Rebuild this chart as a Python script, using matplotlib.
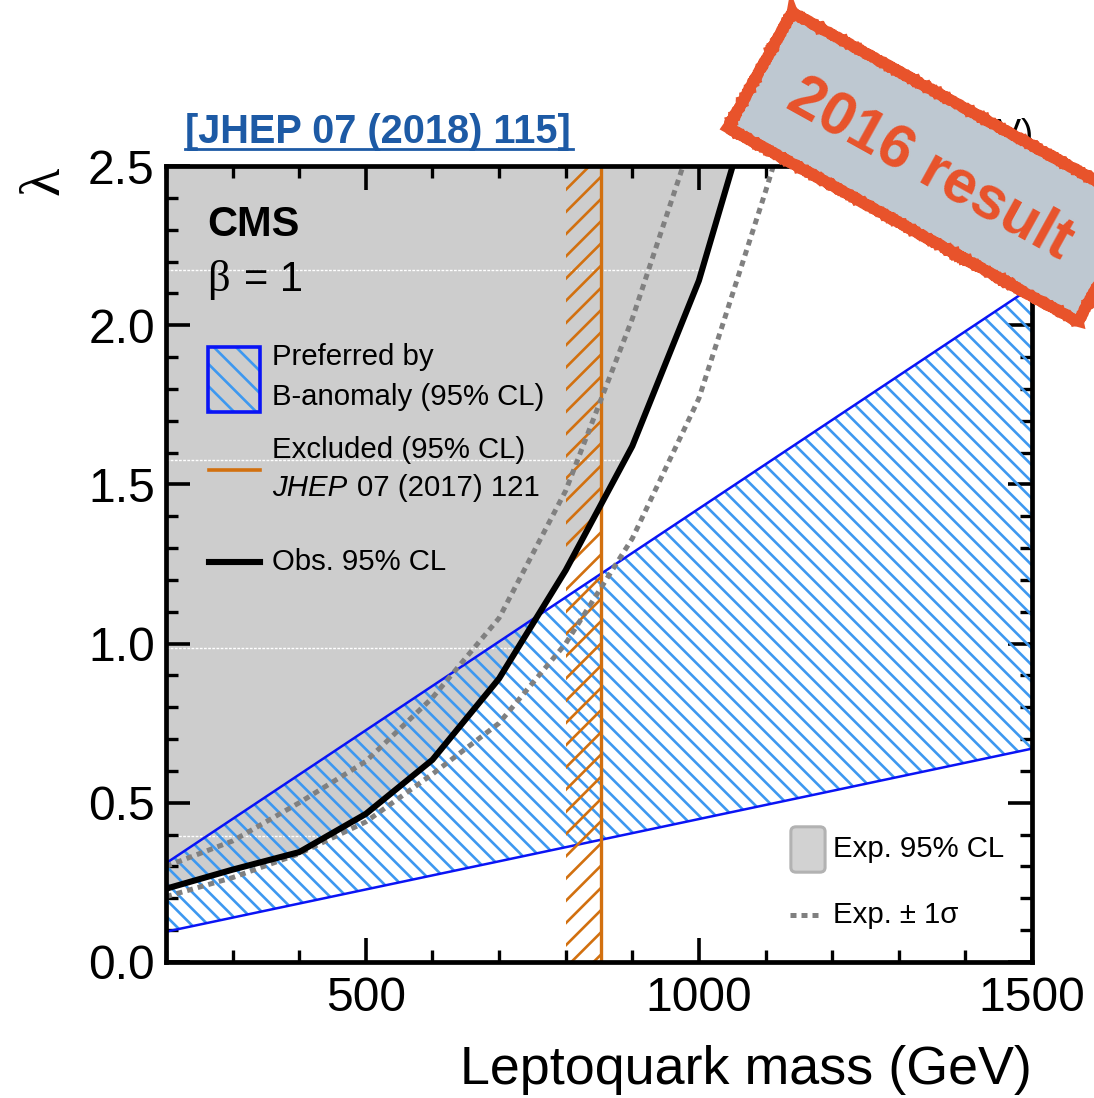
import matplotlib
matplotlib.use("Agg")
import matplotlib.pyplot as plt
import matplotlib.transforms as mtransforms
from matplotlib.patches import Rectangle, FancyBboxPatch
from matplotlib.lines import Line2D
from matplotlib.ticker import MultipleLocator, FormatStrFormatter

plt.rcParams['font.family'] = ['Liberation Sans', 'DejaVu Sans']
plt.rcParams['mathtext.fontset'] = 'custom'
plt.rcParams['mathtext.rm'] = 'Liberation Sans'
plt.rcParams['mathtext.it'] = 'Liberation Sans:italic'
plt.rcParams['hatch.linewidth'] = 0.95

# observed 95% CL limit on lambda vs LQ mass
mass_obs = [200, 300, 400, 500, 600, 700, 800, 900, 1000, 1100]
lam_obs = [0.23, 0.29, 0.345, 0.465, 0.635, 0.89, 1.23, 1.62, 2.14, 2.85]

# expected +/- 1 sigma
mass_exp_up = [200, 300, 400, 500, 600, 700, 800, 900, 1000]
lam_exp_up = [0.30, 0.38, 0.50, 0.63, 0.83, 1.08, 1.48, 2.02, 2.65]
mass_exp_dn = [200, 300, 400, 500, 600, 700, 800, 900, 1000, 1100, 1200]
lam_exp_dn = [0.205, 0.265, 0.34, 0.44, 0.59, 0.75, 1.00, 1.33, 1.77, 2.42, 3.1]

# B-anomaly preferred band
mass_band = [200, 1500]
lam_band_hi = [0.31, 2.12]
lam_band_lo = [0.095, 0.67]

# earlier exclusion (JHEP 07 (2017) 121)
excl_lo, excl_hi = 800, 853

xticks = [500, 1000, 1500]
yticks = [0.0, 0.5, 1.0, 1.5, 2.0, 2.5]
# seams of the grey fill texture
seam_levels = [0.396, 0.986, 1.577, 2.173]

orange = '#d2700f'
hatch_blue = '#3d98f0'
edge_blue = '#0a14f5'
grey_fill = '#cdcdcd'
stamp_red = '#e8532b'

fig = plt.figure(figsize=(5.47, 5.49), dpi=200)
ax = fig.add_axes([0.1517, 0.1239, 0.7916, 0.7249])
ax.set_xlim(200, 1500)
ax.set_ylim(0, 2.5)

# excluded region, grey
grey = ax.fill_between(mass_obs, lam_obs, 2.6, facecolor=grey_fill, edgecolor='none', zorder=1)
for lv in seam_levels:
    seam = ax.axhline(lv, color='white', lw=0.5, ls=(0, (2, 1)), zorder=1.2)
    seam.set_clip_path(grey.get_paths()[0], ax.transData)

# preferred band
ax.fill_between(mass_band, lam_band_lo, lam_band_hi, facecolor='none', edgecolor=hatch_blue,
                hatch='\\' * 4, linewidth=0, zorder=2)
ax.plot(mass_band, lam_band_hi, color=edge_blue, lw=0.9, zorder=2.1)
ax.plot(mass_band, lam_band_lo, color=edge_blue, lw=0.9, zorder=2.1)

# old exclusion
ax.axvspan(excl_lo, excl_hi, facecolor='none', edgecolor=orange, hatch='///', linewidth=0, zorder=3)
ax.axvline(excl_hi, color=orange, lw=1.2, zorder=3.5)

ax.plot(mass_exp_up, lam_exp_up, color='#808080', lw=1.8, dashes=(1.2, 1.0), zorder=4)
ax.plot(mass_exp_dn, lam_exp_dn, color='#808080', lw=1.8, dashes=(1.2, 1.0), zorder=4)
ax.plot(mass_obs, lam_obs, color='black', lw=2.2, zorder=5)

# axes styling
ax.xaxis.set_major_locator(plt.FixedLocator(xticks))
ax.xaxis.set_minor_locator(MultipleLocator(100))
ax.yaxis.set_major_locator(plt.FixedLocator(yticks))
ax.yaxis.set_minor_locator(MultipleLocator(0.1))
ax.yaxis.set_major_formatter(FormatStrFormatter('%.1f'))
ax.tick_params(which='both', direction='in', top=True, right=True, labelsize=17.3, pad=4)
ax.tick_params(which='major', length=8.6, width=1.3)
ax.tick_params(which='minor', length=4.3, width=1.2)
ax.tick_params(axis='x', pad=5)
for sp in ax.spines.values():
    sp.set_linewidth(1.7)
    sp.set_zorder(10)

ax.text(1.0, -0.136, 'Leptoquark mass (GeV)', transform=ax.transAxes, ha='right', va='center', fontsize=19.4)
ax.text(-0.14, 0.982, 'λ', transform=ax.transAxes, rotation=90, ha='center', va='center',
        fontsize=21, family='Liberation Serif')

# header
ax.text(0.022, 1.043, '[JHEP 07 (2018) 115]', transform=ax.transAxes, ha='left', va='center',
        fontsize=14.3, fontweight='bold', color='#1d5aa5')
ax.add_line(Line2D([0.022, 0.47], [1.021, 1.021], transform=ax.transAxes, color='#1d5aa5', lw=1.0, clip_on=False))
ax.text(1.0, 1.04, r'35.9 fb$^{-1}$ (13 TeV)', transform=ax.transAxes, ha='right', va='center', fontsize=13)

# labels and legend, upper left
ax.text(0.0473, 0.926, 'CMS', transform=ax.transAxes, ha='left', va='center', fontsize=15, fontweight='bold', zorder=6)
ax.text(0.0473, 0.857, 'β', transform=ax.transAxes, ha='left', va='center', fontsize=16, family='Liberation Serif', zorder=6)
ax.text(0.0901, 0.857, '= 1', transform=ax.transAxes, ha='left', va='center', fontsize=15, zorder=6)

ax.add_patch(Rectangle((0.0485, 0.691), 0.06, 0.0816, transform=ax.transAxes, facecolor='none',
                       edgecolor=hatch_blue, hatch='\\' * 3, linewidth=0, zorder=6))
ax.add_patch(Rectangle((0.0485, 0.691), 0.06, 0.0816, transform=ax.transAxes, facecolor='none',
                       edgecolor=edge_blue, linewidth=1.3, zorder=6))
ax.text(0.1224, 0.760, 'Preferred by', transform=ax.transAxes, va='center', fontsize=10.6, zorder=6)
ax.text(0.1224, 0.7098, 'B-anomaly (95% CL)', transform=ax.transAxes, va='center', fontsize=10.6, zorder=6)

ax.add_line(Line2D([0.0497, 0.1085], [0.618, 0.618], transform=ax.transAxes, color=orange, lw=1.3, zorder=6))
ax.text(0.1224, 0.643, 'Excluded (95% CL)', transform=ax.transAxes, va='center', fontsize=10.6, zorder=6)
ax.text(0.1224, 0.5955, 'JHEP', transform=ax.transAxes, va='center', fontsize=10.6, style='italic', zorder=6)
ax.text(0.2206, 0.5955, '07 (2017) 121', transform=ax.transAxes, va='center', fontsize=10.6, zorder=6)

ax.add_line(Line2D([0.0497, 0.1085], [0.5025, 0.5025], transform=ax.transAxes, color='black', lw=2.2, zorder=6))
ax.text(0.1224, 0.5025, 'Obs. 95% CL', transform=ax.transAxes, va='center', fontsize=10.6, zorder=6)

# legend, lower right
ax.add_patch(FancyBboxPatch((0.7216, 0.1128), 0.0395, 0.057, boxstyle='round,pad=0.0,rounding_size=0.006',
                            transform=ax.transAxes, facecolor='#d2d2d2', edgecolor='#b2b2b2', linewidth=1.1, zorder=6))
ax.text(0.770, 0.142, 'Exp. 95% CL', transform=ax.transAxes, va='center', fontsize=10.6, zorder=6)
ax.add_line(Line2D([0.7206, 0.7575], [0.059, 0.059], transform=ax.transAxes, color='#808080', lw=1.8,
                   dashes=(1.2, 1.0), zorder=6))
ax.text(0.770, 0.059, 'Exp. ± 1σ', transform=ax.transAxes, va='center', fontsize=10.6, zorder=6)

# "2016 result" stamp with a rough red rim
stamp_tr = mtransforms.Affine2D().rotate_deg(-29).translate(4.675, 4.655) + fig.dpi_scale_trans
stamp = Rectangle((-1.0, -0.33), 2.0, 0.66, transform=stamp_tr, facecolor='#bec8d1',
                  edgecolor=stamp_red, linewidth=4.0, zorder=20)
stamp.set_sketch_params(scale=0.5, length=2, randomness=8)
fig.add_artist(stamp)
for sc, lw in [(0.9, 1.4), (0.7, 0.9)]:
    rim = Rectangle((-1.0, -0.33), 2.0, 0.66, transform=stamp_tr, facecolor='none',
                    edgecolor=stamp_red, linewidth=lw, zorder=21)
    rim.set_sketch_params(scale=sc, length=1.5, randomness=10)
    fig.add_artist(rim)
fig.text(930 / 1094, 1 - 170 / 1098, '2016 result', rotation=-29, rotation_mode='anchor', ha='center',
         va='center', color=stamp_red, fontsize=21.8, fontweight='bold', zorder=22)

fig.savefig('out.png', dpi=200)
